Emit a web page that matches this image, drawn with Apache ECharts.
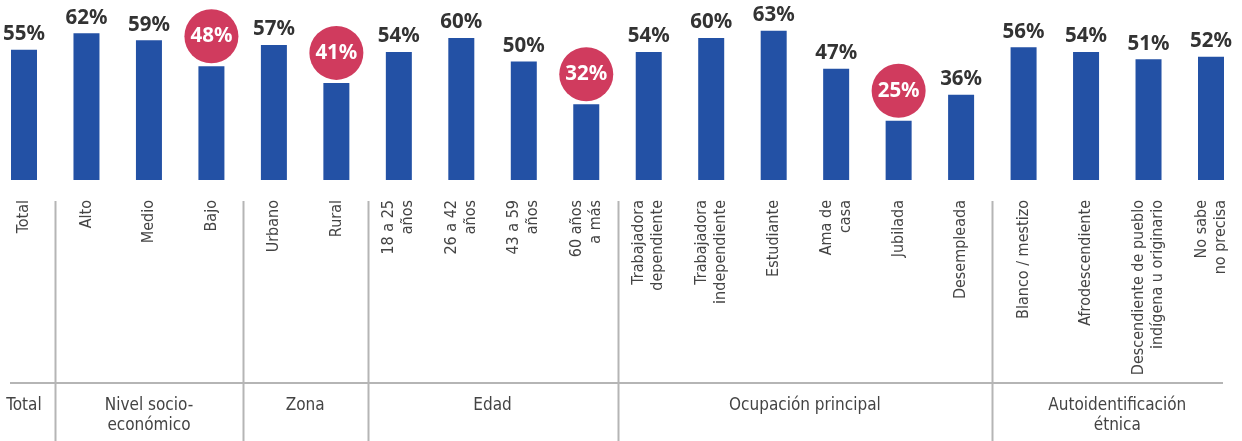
<!DOCTYPE html>
<html>
<head>
<meta charset="utf-8">
<script src="https://cdn.jsdelivr.net/npm/echarts@6/dist/echarts.min.js"></script>
<style>
html,body{margin:0;padding:0;background:#fff;}
#c{width:1242px;height:441px;}
</style>
</head>
<body>
<div id="c"></div>
<script>
var categories = ['Total','Alto','Medio','Bajo','Urbano','Rural','18 a 25\naños','26 a 42\naños','43 a 59\naños','60 años\na más','Trabajadora\ndependiente','Trabajadora\nindependiente','Estudiante','Ama de\ncasa','Jubilada','Desempleada','Blanco / mestizo','Afrodescendiente','Descendiente de pueblo\nindígena u originario','No sabe\nno precisa'];
var values = [55,62,59,48,57,41,54,60,50,32,54,60,63,47,25,36,56,54,51,52];
var highlighted = [3,5,9,14];
var groupNames = ['Total','Nivel socio-\neconómico','Zona','Edad','Ocupación principal','Autoidentificación\nétnica'];
var groupSizes = [1,3,2,4,6,4];

var NARROW = "'Liberation Sans Narrow','Arial Narrow','DejaVu Sans Condensed',sans-serif";
var BOLD = "'Noto Sans','Open Sans',sans-serif";

var chart = echarts.init(document.getElementById('c'), null, {renderer:'canvas'});

var barData = values.map(function(v,i){
  return highlighted.indexOf(i) >= 0 ? {value:v, label:{show:false}} : v;
});
var circleData = values.map(function(v,i){
  return highlighted.indexOf(i) >= 0 ? v : '-';
});

chart.setOption({
  animation:false,
  grid:{left:24, right:31, top:0, bottom:261, containLabel:false},
  xAxis:{
    type:'category', data:categories, boundaryGap:false,
    axisLine:{show:false}, axisTick:{show:false},
    axisLabel:{rotate:90, interval:0, margin:20, fontFamily:NARROW, fontSize:16, color:'#444', lineHeight:19}
  },
  yAxis:{type:'value', min:0, max:76, show:false, splitLine:{show:false}},
  series:[
    {type:'bar', data:barData, barWidth:26, itemStyle:{color:'#2351A5'},
     label:{show:true, position:'top', distance:5, formatter:'{c}%', fontFamily:BOLD, fontWeight:'bold', fontSize:20.5, color:'#333'}},
    {type:'scatter', data:circleData, symbol:'circle', symbolSize:54, symbolOffset:[0,-30],
     itemStyle:{color:'#D03B5E', opacity:1}, z:5,
     label:{show:true, position:'inside', formatter:'{c}%', fontFamily:BOLD, fontWeight:'bold', fontSize:20.5, color:'#fff'}}
  ]
});

function px(i){ return chart.convertToPixel({xAxisIndex:0}, i); }
var graphics = [];
var lineStyle = {stroke:'#b5b5b5', lineWidth:2};
graphics.push({type:'line', shape:{x1:10, y1:383, x2:1223, y2:383}, style:lineStyle, silent:true});
var start = 0;
groupSizes.forEach(function(n, g){
  var end = start + n - 1;
  var cx = (px(start) + px(end)) / 2;
  graphics.push({type:'text', x:cx, y:396, silent:true,
    style:{text:groupNames[g], fontFamily:NARROW, fontSize:17, fill:'#444', textAlign:'center', textVerticalAlign:'top', lineHeight:20}});
  if (g < groupSizes.length - 1) {
    var sx = Math.round((px(end) + px(end+1)) / 2) + 0.5;
    graphics.push({type:'line', shape:{x1:sx, y1:201, x2:sx, y2:441}, style:lineStyle, silent:true});
  }
  start += n;
});
chart.setOption({graphic:graphics});
</script>
</body>
</html>
